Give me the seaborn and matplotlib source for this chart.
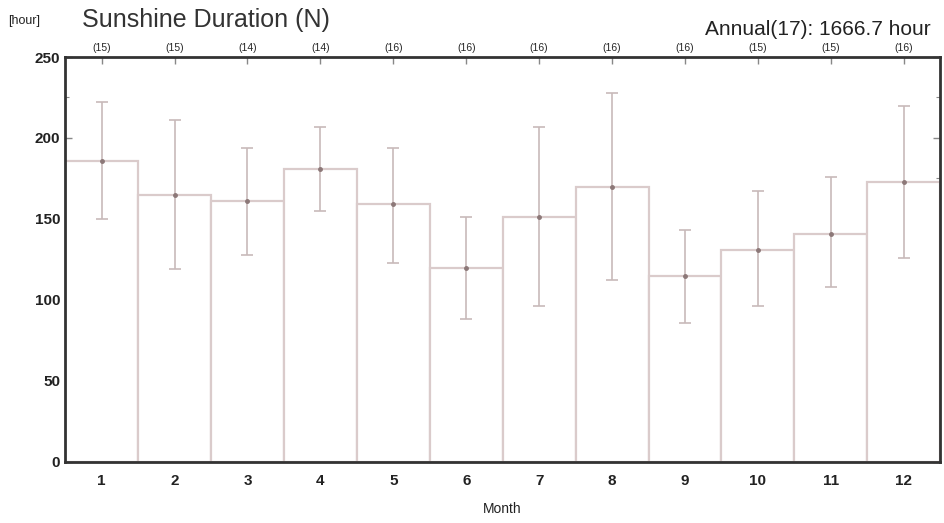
import pandas as pd
import seaborn as sns
import matplotlib.pyplot as plt

# Monthly sunshine duration (hours)
months = ["1", "2", "3", "4", "5", "6", "7", "8", "9", "10", "11", "12"]
mean_hours = [186, 165, 161, 181, 159, 120, 151, 170, 115, 131, 141, 173]
upper_hours = [222, 211, 194, 207, 194, 151, 207, 228, 143, 167, 176, 220]
lower_hours = [150, 119, 128, 155, 123, 88, 96, 112, 86, 96, 108, 126]
counts = ["(15)", "(15)", "(14)", "(14)", "(16)", "(16)", "(16)", "(16)", "(16)", "(15)", "(15)", "(16)"]

df = pd.DataFrame({"Month": months, "hours": mean_hours})

sns.set_style("ticks")
plt.rcParams["font.family"] = ["Liberation Sans", "DejaVu Sans"]

fig = plt.figure(figsize=(9.44, 5.23), dpi=100)
ax = fig.add_axes([0.069, 0.117, 0.927, 0.774])

edge = "#dacbcb"
err_col = "#c8baba"
dark = "#333333"

sns.barplot(data=df, x="Month", y="hours", order=months, width=1.0,
            color="white", edgecolor=edge, linewidth=1.6, errorbar=None, ax=ax)

pos = list(range(len(months)))
yerr = [[m - lo for m, lo in zip(mean_hours, lower_hours)],
        [hi - m for m, hi in zip(mean_hours, upper_hours)]]
ax.errorbar(pos, mean_hours, yerr=yerr, fmt="o", ms=2.5, color="#8c7878",
            ecolor=err_col, elinewidth=1.2, capsize=4, capthick=1.2)

ax.set_xlim(-0.5, len(months) - 0.5)
ax.set_ylim(0, 250)
ax.set_yticks(range(0, 251, 50))
ax.set_yticks(range(0, 251, 25), minor=True)

for s in ax.spines.values():
    s.set_visible(True)
    s.set_color(dark)
    s.set_linewidth(2)

ax.tick_params(axis="both", which="major", direction="in", length=5, width=1,
               color="#888888", top=True, right=True, labelsize=11)
ax.tick_params(axis="x", which="major", pad=9)
ax.tick_params(axis="y", which="minor", direction="in", length=3, width=0.8,
               color="#888888", right=True)
for lab in ax.get_xticklabels() + ax.get_yticklabels():
    lab.set_fontweight("bold")
    lab.set_color("#222222")

ax.set_xlabel("Month", fontsize=10, color="#222222", labelpad=10)
ax.set_ylabel("")

# sample counts along the top
sec = ax.secondary_xaxis("top")
sec.set_xticks(pos, labels=counts)
sec.tick_params(length=0, labelsize=7.5, pad=3)
sec.spines["top"].set_visible(False)

fig.text(0.009, 0.959, "[hour]", fontsize=9, color="#222222", va="center")
fig.text(0.087, 0.962, "Sunshine Duration (N)", fontsize=18, color="#333333", va="center")
fig.text(0.986, 0.944, "Annual(17): 1666.7 hour", fontsize=15, color="#222222",
         va="center", ha="right")

plt.savefig("out.png", dpi=100)
